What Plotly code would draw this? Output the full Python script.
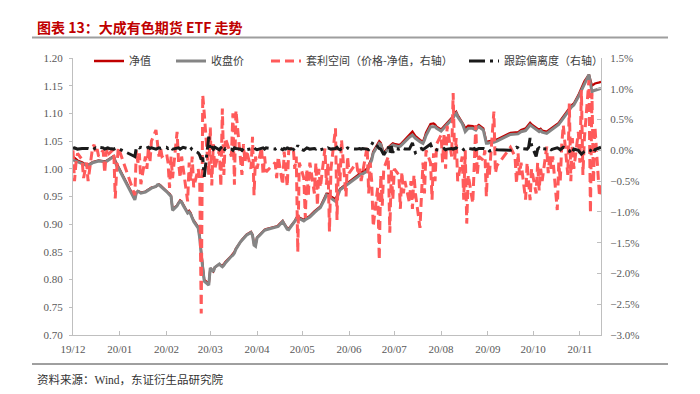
import pandas as pd
import plotly.graph_objects as go

# ---------------- data ----------------
START, END = "2019-12-24", "2020-12-08"
HOLIDAYS = ["2020-01-01", "2020-01-24", "2020-01-27", "2020-01-28", "2020-01-29",
            "2020-01-30", "2020-01-31", "2020-04-06", "2020-05-01", "2020-05-04",
            "2020-05-05", "2020-06-25", "2020-06-26", "2020-10-01", "2020-10-02",
            "2020-10-05", "2020-10-06", "2020-10-07", "2020-10-08"]
dates = [d for d in pd.bdate_range(START, END) if d.strftime("%Y-%m-%d") not in HOLIDAYS]

nav = [
    1.022, 1.020, 1.018, 1.015, 1.012, 1.010,
    1.008, 1.007, 1.012, 1.013, 1.014, 1.014, 1.015, 1.014, 1.014, 1.014, 1.016, 1.018, 1.023, 1.015, 1.008, 1.004,
    0.946, 0.957, 0.960, 0.959, 0.957, 0.959, 0.961, 0.963, 0.964, 0.966, 0.968, 0.971, 0.972, 0.970, 0.967, 0.960, 0.957, 0.955, 0.951, 0.927,
    0.934, 0.939, 0.943, 0.941, 0.936, 0.921, 0.924, 0.920, 0.912, 0.907, 0.895, 0.878, 0.850, 0.818, 0.800, 0.792, 0.820, 0.818, 0.815, 0.822, 0.828, 0.826,
    0.825, 0.828, 0.832, 0.843, 0.846, 0.850, 0.856, 0.869, 0.872, 0.875, 0.878, 0.881, 0.886, 0.881, 0.864, 0.862, 0.876, 0.885, 0.888, 0.890, 0.891,
    0.895, 0.896, 0.898, 0.906, 0.901, 0.897, 0.893, 0.892, 0.901, 0.906, 0.911, 0.915, 0.912, 0.908, 0.910, 0.912, 0.913, 0.915,
    0.923, 0.926, 0.928, 0.930, 0.932, 0.948, 0.955, 0.955, 0.952, 0.950, 0.945, 0.952, 0.959, 0.964, 0.966, 0.972, 0.974, 0.976, 0.986, 0.989,
    0.992, 0.993, 0.995, 1.000, 1.006, 1.013, 1.019, 1.031, 1.047, 1.050, 1.047, 1.036, 1.029, 1.039, 1.042, 1.044, 1.046, 1.045, 1.043, 1.044, 1.047, 1.050, 1.052,
    1.061, 1.065, 1.067, 1.063, 1.059, 1.052, 1.050, 1.049, 1.056, 1.065, 1.081, 1.081, 1.082, 1.080, 1.076, 1.071, 1.074, 1.077, 1.080, 1.082, 1.091,
    1.095, 1.100, 1.103, 1.097, 1.085, 1.079, 1.073, 1.076, 1.078, 1.077, 1.075, 1.074, 1.077, 1.079, 1.073, 1.061, 1.049, 1.049, 1.050, 1.051, 1.052, 1.053,
    1.065, 1.066, 1.065, 1.066, 1.068, 1.070, 1.073, 1.077, 1.081, 1.083, 1.080, 1.074, 1.071, 1.070, 1.072, 1.069,
    1.067, 1.069, 1.071, 1.073, 1.075, 1.081, 1.083, 1.087, 1.091, 1.094, 1.107, 1.110, 1.113, 1.116, 1.118, 1.133, 1.139, 1.145, 1.152, 1.158, 1.170,
    1.160, 1.150, 1.152, 1.154, 1.156, 1.157,
]

close = [
    1.016, 1.015, 1.014, 1.012, 1.009, 1.008,
    1.006, 1.005, 1.011, 1.012, 1.013, 1.013, 1.014, 1.013, 1.012, 1.013, 1.015, 1.017, 1.022, 1.012, 1.005, 1.002,
    0.944, 0.957, 0.959, 0.958, 0.956, 0.958, 0.960, 0.962, 0.963, 0.965, 0.968, 0.971, 0.971, 0.968, 0.966, 0.959, 0.956, 0.954, 0.950, 0.925,
    0.933, 0.938, 0.941, 0.940, 0.934, 0.920, 0.922, 0.918, 0.910, 0.905, 0.893, 0.875, 0.845, 0.815, 0.797, 0.790, 0.821, 0.818, 0.814, 0.822, 0.828, 0.825,
    0.823, 0.826, 0.830, 0.842, 0.844, 0.848, 0.855, 0.868, 0.871, 0.874, 0.877, 0.880, 0.885, 0.880, 0.862, 0.860, 0.875, 0.884, 0.887, 0.889, 0.890,
    0.894, 0.895, 0.896, 0.905, 0.900, 0.895, 0.891, 0.890, 0.900, 0.905, 0.909, 0.914, 0.910, 0.906, 0.908, 0.910, 0.911, 0.913,
    0.921, 0.924, 0.926, 0.928, 0.930, 0.946, 0.953, 0.952, 0.949, 0.947, 0.941, 0.948, 0.956, 0.962, 0.964, 0.970, 0.972, 0.974, 0.984, 0.987,
    0.989, 0.990, 0.991, 0.996, 1.003, 1.010, 1.016, 1.028, 1.043, 1.046, 1.044, 1.032, 1.025, 1.037, 1.039, 1.041, 1.043, 1.042, 1.040, 1.041, 1.044, 1.047, 1.049,
    1.057, 1.060, 1.061, 1.058, 1.055, 1.049, 1.047, 1.046, 1.052, 1.060, 1.076, 1.076, 1.077, 1.076, 1.073, 1.068, 1.071, 1.074, 1.077, 1.079, 1.088,
    1.092, 1.097, 1.100, 1.094, 1.082, 1.075, 1.067, 1.070, 1.073, 1.073, 1.071, 1.070, 1.074, 1.076, 1.070, 1.058, 1.046, 1.046, 1.047, 1.048, 1.049, 1.050,
    1.062, 1.063, 1.062, 1.063, 1.065, 1.067, 1.069, 1.072, 1.076, 1.079, 1.077, 1.071, 1.068, 1.067, 1.069, 1.066,
    1.064, 1.066, 1.068, 1.070, 1.072, 1.078, 1.080, 1.084, 1.088, 1.091, 1.104, 1.107, 1.110, 1.113, 1.115, 1.130, 1.136, 1.142, 1.149, 1.155, 1.170,
    1.155, 1.139, 1.141, 1.142, 1.144, 1.145,
]

arb_pct = [
    0.00, -0.50, -0.20, -0.05, -0.15, -0.45,
    -0.20, -0.50, 0.05, 0.09, -0.05, 0.02, -0.10, 0.00, -0.37, -0.05, 0.05, -0.05, 0.02, -0.78, -0.30, 0.05,
    -0.73, 0.00, -0.20, -0.05, -0.55, -0.10, -0.30, 0.05, -0.20, 0.15, 0.33, 0.10, -0.10, 0.05, -0.10, -0.05, -0.20, -0.61, -0.10, -0.45,
    0.30, -0.20, -0.45, -0.10, -0.30, -0.83, -0.20, -0.50, -0.10, -0.60, -0.30, -0.50, -2.65, 0.90, 0.60, -0.40, 0.37, -0.57, 0.10, -0.30, 0.00, -0.59,
    0.68, -0.40, 0.20, -0.10, 0.60, -0.56, 0.65, -0.10, -0.40, 0.10, -0.20, 0.00, -0.30, 0.22, -0.73, -0.10, -0.30, 0.05, -0.40, -0.10, -0.35,
    -0.20, -0.45, -0.10, -0.56, -0.02, -0.30, -0.59, 0.00, 0.05, -0.30, -0.10, -1.65, -0.20, -0.45, -1.10, -0.30, -0.75, -0.20,
    -0.70, -0.20, -0.90, -0.30, -0.60, 0.03, -0.56, -0.20, -1.32, -0.30, 0.36, -1.13, -0.20, -0.50, 0.17, -0.75, -0.10, -0.37, -0.20, -0.40,
    -0.30, -0.50, -0.35, 0.06, -0.70, -0.20, -0.50, -1.24, -0.60, -1.78, -0.40, -0.90, -0.30, -0.10, -1.34, -0.30, -0.80, -0.30, -0.40, -0.95, -0.35, -0.70, -0.50,
    -0.85, -0.50, -0.95, -0.40, -0.70, -1.26, -0.60, -0.20, -0.70, 0.00, -0.20, -0.80, -0.05, -0.50, 0.10, 0.25, -0.20, 0.28, -0.30, 0.40, -0.10,
    0.93, -0.16, 0.20, -0.50, -0.10, -0.80, 0.00, -1.19, -0.40, -0.86, -0.20, 0.41, -0.40, -0.10, -0.16, 0.00, -0.75, -0.20, -0.40, 0.63, -0.37, -0.25,
    0.05, -0.10, -0.54, -0.04, -0.40, -0.20, -0.80, -0.20, -0.50, -0.81, -0.30, -0.70, -0.20, -0.65, -0.30, -0.50,
    0.06, -0.37, -0.10, -0.30, -0.10, -0.97, -0.20, -0.50, 0.10, 0.41, -0.40, 0.76, -0.50, 0.20, -0.30, 0.30, -0.20, 0.98, -0.40, 0.20, 1.14,
    -1.02, 0.93, -0.53, 0.38, -0.75, -0.55,
]

track_pct = [
    0.03, 0.04, 0.03, 0.02, 0.03, 0.03,
    0.02, 0.03, 0.01, 0.03, 0.04, 0.03, 0.05, 0.04, 0.02, 0.03, 0.04, 0.03, 0.02, 0.03, 0.04, 0.03,
    -0.10, 0.05, 0.06, 0.04, 0.05, 0.03, 0.04, 0.05, 0.03, 0.04, 0.02, 0.03, 0.04, 0.03, 0.04, 0.05, 0.03, 0.04, 0.06, 0.02,
    0.03, 0.04, 0.02, 0.03, 0.05, 0.03, 0.06, 0.04, 0.01, 0.00, -0.04, -0.08, -0.15, -0.12, -0.43, 0.22, 0.00, 0.06, 0.02, 0.05, 0.01, 0.04,
    0.06, -0.01, 0.03, 0.02, 0.00, 0.04, 0.03, 0.02, 0.00, 0.03, 0.04, 0.01, 0.02, 0.03, 0.05, 0.02, 0.01, 0.03, 0.04, 0.02, 0.04,
    0.02, 0.03, 0.05, 0.01, 0.03, 0.02, 0.04, 0.03, 0.02, -0.01, 0.02, 0.08, 0.03, 0.00, 0.02, 0.04, 0.03, 0.02,
    0.03, 0.02, 0.04, 0.03, 0.01, 0.03, 0.02, 0.04, 0.03, 0.02, 0.03, 0.05, 0.02, 0.01, 0.03, 0.02, 0.04, 0.03, 0.02, 0.03,
    0.03, 0.02, 0.03, 0.02, 0.01, 0.05, 0.10, 0.14, 0.06, 0.03, 0.02, -0.02, -0.07, 0.06, -0.05, 0.07, -0.04, 0.03, 0.02, 0.03, 0.01, 0.03, 0.02,
    0.02, 0.08, 0.12, 0.03, -0.04, 0.02, 0.03, 0.01, 0.03, 0.05, 0.10, 0.04, 0.02, 0.03, 0.01, 0.00, 0.02, 0.03, 0.01, 0.02, 0.03,
    0.02, 0.03, 0.04, 0.02, 0.03, 0.01, 0.02, 0.04, 0.03, 0.02, 0.03, 0.01, 0.02, 0.03, 0.03, 0.02, 0.01, 0.02, -0.01, 0.01, 0.02, 0.01,
    0.00, 0.03, 0.05, 0.04, 0.02, 0.03, 0.03, 0.02, 0.05, 0.20, 0.08, -0.10, 0.02, 0.04, 0.01, 0.03,
    0.02, 0.04, 0.03, 0.01, 0.02, 0.04, 0.03, 0.01, 0.03, 0.05, 0.02, 0.00, -0.06, -0.03, 0.02, 0.00, -0.03, -0.06, -0.04, -0.02, 0.01,
    0.00, -0.04, -0.05, 0.01, 0.04, 0.05,
]

tick_dates = ["2019-12-24", "2020-01-24", "2020-02-24", "2020-03-24", "2020-04-24", "2020-05-24",
              "2020-06-24", "2020-07-24", "2020-08-24", "2020-09-24", "2020-10-24", "2020-11-24"]
tick_labels = ["19/12", "20/01", "20/02", "20/03", "20/04", "20/05",
               "20/06", "20/07", "20/08", "20/09", "20/10", "20/11"]

names = ["净值", "收盘价", "套利空间（价格-净值，右轴）", "跟踪偏离度（右轴）"]

# ---------------- figure ----------------
W, H = 700, 394
ML, MR, MT, MB = 73, 99, 58, 59
PW, PH = W - ML - MR, H - MT - MB

def px_x(px):
    return (px - ML) / PW

def px_y(py):
    return (H - MB - py) / PH

SERIF = "Liberation Serif, Times New Roman, Noto Sans CJK SC, serif"
CJK = "Noto Sans CJK SC, sans-serif"
AX = "#BFBFBF"
TXT = "#595959"

fig = go.Figure()
fig.add_trace(go.Scatter(x=dates, y=nav, name=names[0], mode="lines",
                         line=dict(color="#C00000", width=2.3), legend="legend"))
fig.add_trace(go.Scatter(x=dates, y=close, name=names[1], mode="lines",
                         line=dict(color="#858585", width=3), legend="legend2"))
fig.add_trace(go.Scatter(x=dates, y=arb_pct, name=names[2], mode="lines", yaxis="y2",
                         line=dict(color="#FF5A5A", width=3, dash="9px,5px"), legend="legend3"))
fig.add_trace(go.Scatter(x=dates, y=track_pct, name=names[3], mode="lines", yaxis="y2",
                         line=dict(color="#1A1A1A", width=3, dash="16px,5px,3px,5px"), legend="legend4"))

leg_common = dict(orientation="h", yanchor="middle", xanchor="left", y=px_y(61),
                  bgcolor="rgba(0,0,0,0)", borderwidth=0,
                  font=dict(family=CJK, size=11, color="#404040"))

fig.update_layout(
    width=W, height=H,
    margin=dict(l=ML, r=MR, t=MT, b=MB),
    paper_bgcolor="white", plot_bgcolor="white",
    showlegend=True,
    legend=dict(leg_common, x=px_x(89)),
    legend2=dict(leg_common, x=px_x(171)),
    legend3=dict(leg_common, x=px_x(266)),
    legend4=dict(leg_common, x=px_x(464)),
    xaxis=dict(type="date", range=[START, END], tickvals=tick_dates, ticktext=tick_labels,
               showgrid=False, zeroline=False, showline=True, linecolor=AX, linewidth=1,
               ticks="inside", ticklen=4, tickcolor=AX, ticklabelstandoff=4,
               tickfont=dict(family=SERIF, size=11, color=TXT)),
    yaxis=dict(range=[0.70, 1.20], dtick=0.05, tick0=0.70, tickformat=".2f",
               showgrid=False, zeroline=False, showline=True, linecolor=AX, linewidth=1,
               ticks="outside", ticklen=3, tickcolor=AX, ticklabelstandoff=4,
               tickfont=dict(family=SERIF, size=11, color=TXT)),
    yaxis2=dict(range=[-3.0, 1.5], dtick=0.5, tick0=-3.0, tickformat=".1f", ticksuffix="%",
                overlaying="y", side="right",
                showgrid=False, zeroline=False, showline=True, linecolor=AX, linewidth=1,
                ticks="inside", ticklen=4, tickcolor=AX, ticklabelstandoff=6,
                tickfont=dict(family=SERIF, size=11, color=TXT)),
    shapes=[
        dict(type="line", xref="paper", yref="paper", x0=px_x(32), x1=px_x(668),
             y0=px_y(37.5), y1=px_y(37.5), line=dict(color="#9E9E9E", width=2)),
        dict(type="line", xref="paper", yref="paper", x0=px_x(32), x1=px_x(668),
             y0=px_y(364), y1=px_y(364), line=dict(color="#404040", width=1)),
    ],
    annotations=[
        dict(text="<b>图表 13：大成有色期货 ETF 走势</b>", xref="paper", yref="paper",
             x=px_x(35), y=px_y(27.5), xanchor="left", yanchor="middle", showarrow=False,
             font=dict(family=CJK, size=14, color="#C00000")),
        dict(text="资料来源：Wind，东证衍生品研究院", xref="paper", yref="paper",
             x=px_x(35), y=px_y(379), xanchor="left", yanchor="middle", showarrow=False,
             font=dict(family=SERIF, size=11.5, color="#333333")),
    ],
)

fig.write_html("out.html", config={"displayModeBar": False},
               post_script="document.body.style.margin='0px';")
